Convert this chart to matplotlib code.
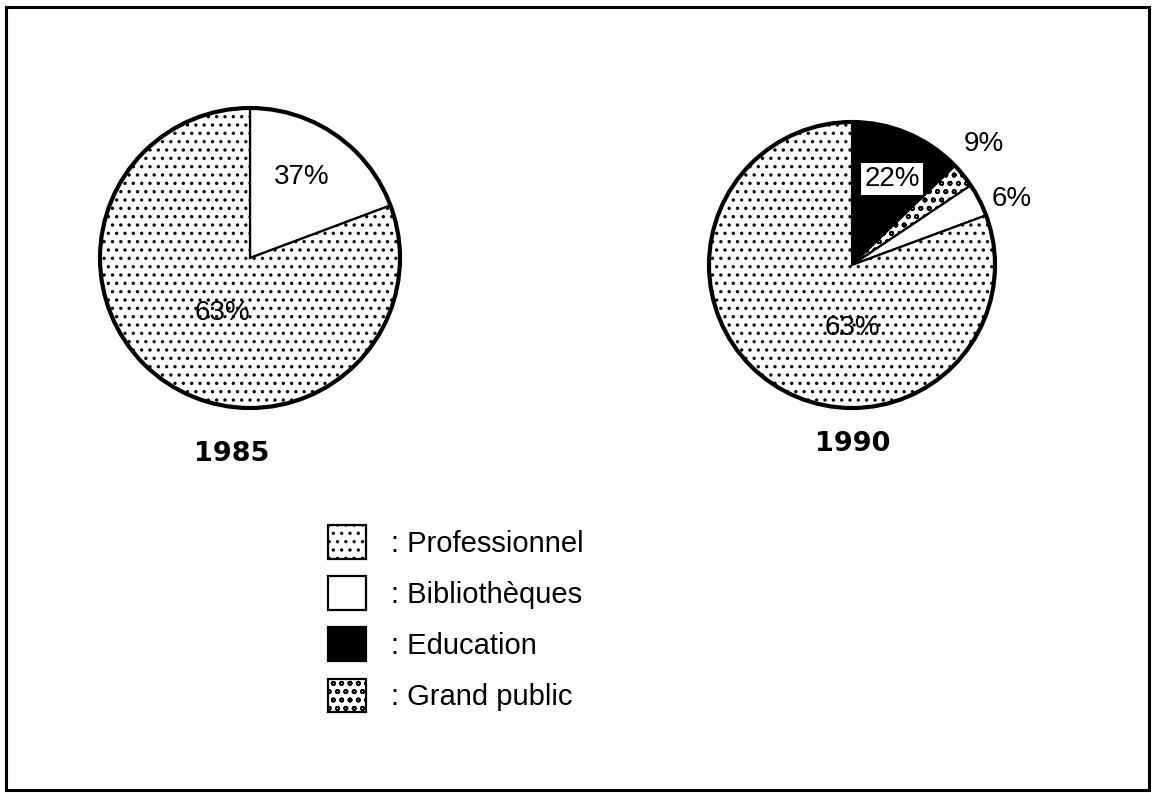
import matplotlib
matplotlib.use("Agg")
import matplotlib.pyplot as plt
from matplotlib.patches import Circle, Rectangle

# wedge sizes as they are drawn in the original figure (the printed
# percentages do not match the drawn angles, so both are kept)
cats_1985 = ["Bibliothèques", "Professionnel"]
shares_1985 = [19.3, 80.7]
labels_1985 = ["37%", "63%"]

cats_1990 = ["Education", "Grand public", "Bibliothèques", "Professionnel"]
shares_1990 = [12.8, 2.8, 3.75, 80.65]
labels_1990 = ["22%", "9%", "6%", "63%"]

legend_order = ["Professionnel", "Bibliothèques", "Education", "Grand public"]
years = ["1985", "1990"]

STYLE = {
    "Professionnel": dict(color="white", hatch=".."),
    "Bibliothèques": dict(color="white", hatch=None),
    "Education": dict(color="black", hatch=None),
    "Grand public": dict(color="white", hatch="oo"),
}

W, H = 1154, 793
plt.rcParams["font.family"] = ["Liberation Sans", "DejaVu Sans"]
plt.rcParams["hatch.linewidth"] = 1.2


def py(y):
    return H - y


def draw_pie(ax, cats, shares, cx, cy, r):
    wedges, _ = ax.pie(
        shares,
        colors=[STYLE[c]["color"] for c in cats],
        hatch=[STYLE[c]["hatch"] or "" for c in cats],
        startangle=90,
        counterclock=False,
        center=(cx, py(cy)),
        radius=r,
        wedgeprops=dict(edgecolor="black", linewidth=1.6),
    )
    ax.add_patch(Circle((cx, py(cy)), r, fill=False, lw=3.0, ec="black", zorder=5))
    return dict(zip(cats, wedges))


fig = plt.figure(figsize=(W / 100, H / 100), dpi=100)
ax = fig.add_axes([0, 0, 1, 1])

draw_pie(ax, cats_1985, shares_1985, 250, 258, 150)
w90 = draw_pie(ax, cats_1990, shares_1990, 852, 265, 143)

ax.set_xlim(0, W)
ax.set_ylim(0, H)
ax.set_aspect("equal")
ax.axis("off")

txt = dict(fontsize=20, ha="center", va="center")
for lab, (x, y) in zip(labels_1985, [(302, 177), (222, 313)]):
    ax.text(x, py(y), lab, **txt)
pos_1990 = [(892, 179), (984, 144), (1012, 199), (852, 328)]
for lab, (x, y) in zip(labels_1990, pos_1990):
    box = None
    if lab == labels_1990[0]:
        box = dict(facecolor="white", edgecolor="none", pad=2)
    ax.text(x, py(y), lab, bbox=box, zorder=6, **txt)

for year, (x, y) in zip(years, [(232, 454), (853, 444)]):
    ax.text(x, py(y), year, fontsize=19.5, fontweight="bold",
            family="DejaVu Sans", ha="center", va="center")

handles = [w90[c] for c in legend_order]
fig.legend(
    handles,
    [": " + c for c in legend_order],
    loc="upper left",
    bbox_to_anchor=(328 / W, 1 - 525 / H),
    frameon=False,
    fontsize=21,
    handlelength=1.3,
    handleheight=1.4,
    handletextpad=0.85,
    labelspacing=0.6,
    borderpad=0,
    borderaxespad=0,
)

ax.add_patch(Rectangle((6, py(790)), 1143, 783, fill=False, lw=2.2, ec="black"))

fig.savefig("out.png", dpi=100)
